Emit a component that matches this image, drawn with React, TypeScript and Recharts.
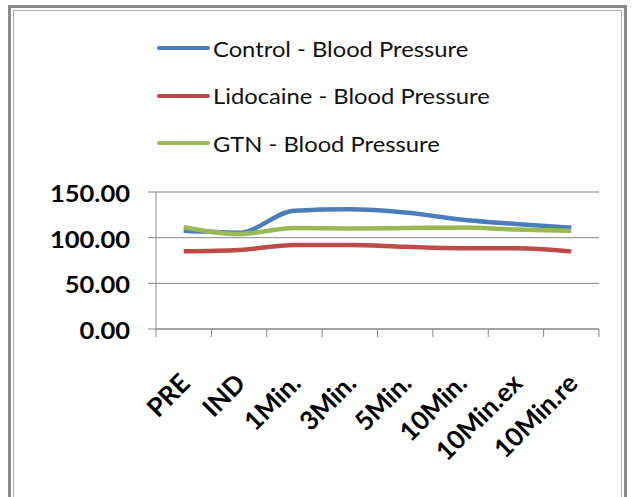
import { LineChart, Line, XAxis, YAxis, CartesianGrid } from "recharts";

const categories = ["PRE", "IND", "1Min.", "3Min.", "5Min.", "10Min.", "10Min.ex", "10Min.re"];
const control = [107.5, 105.5, 129.5, 131, 127.5, 120, 115, 111];
const lidocaine = [85, 86.5, 92, 92, 90, 88.5, 88.5, 85];
const gtn = [111.5, 104, 110.5, 110, 110.5, 111, 109, 107.5];
const yTicks = [0, 50, 100, 150];

const series = [
  { key: "control", name: "Control - Blood Pressure", color: "#4a7ebb" },
  { key: "lidocaine", name: "Lidocaine - Blood Pressure", color: "#be4b48" },
  { key: "gtn", name: "GTN - Blood Pressure", color: "#98b954" },
];

const chartData = categories.map((cat, i) => ({
  cat,
  control: control[i],
  lidocaine: lidocaine[i],
  gtn: gtn[i],
}));

const FONT = "Lato, 'Open Sans', sans-serif";
const W = 633;
const H = 497;
const M = { top: 192, right: 34, bottom: 0, left: 0 };
const Y_W = 156;
const BAND = (W - M.right - M.left - Y_W) / categories.length;
const GRID = "#878787";

function XTick(props: any) {
  const { x, y, payload, index } = props;
  const ax = x + 8;
  const ay = y + 56;
  const last = index === categories.length - 1;
  return (
    <g>
      <line x1={x - BAND / 2} x2={x - BAND / 2} y1={y} y2={y + 8} stroke={GRID} />
      {last && <line x1={x + BAND / 2} x2={x + BAND / 2} y1={y} y2={y + 8} stroke={GRID} />}
      <text
        transform={`translate(${ax}, ${ay}) rotate(-45)`}
        textAnchor="end"
        fontFamily={FONT}
        fontWeight="bold"
        fontSize={26}
        fill="#000"
      >
        {payload.value}
      </text>
    </g>
  );
}

function YTick(props: any) {
  const { x, y, payload } = props;
  return (
    <text
      transform={`translate(${x}, ${y + 10}) scale(1.16, 1)`}
      textAnchor="end"
      fontFamily={FONT}
      fontWeight="bold"
      fontSize={22}
      fill="#000"
    >
      {Number(payload.value).toFixed(2)}
    </text>
  );
}

export default function App() {
  return (
    <div style={{ position: "absolute", left: 0, top: 0, width: W, height: H, background: "#fff", overflow: "hidden" }}>
      {/* chart frame */}
      <div
        style={{
          position: "absolute",
          left: 8,
          top: 5,
          width: 619,
          height: 500,
          border: "3px solid #8a8a8a",
          boxSizing: "border-box",
        }}
      >
        <div style={{ position: "absolute", inset: 2, border: "1px solid #b0b0b0" }} />
      </div>

      {/* legend */}
      {series.map((s, i) => (
        <div
          key={s.key}
          style={{ position: "absolute", left: 157, top: 35 + i * 47.5, height: 26, display: "flex", alignItems: "center" }}
        >
          <div style={{ width: 53, height: 4, background: s.color, borderRadius: 2 }} />
          <span
            style={{
              fontFamily: FONT,
              fontSize: 22,
              color: "#111",
              marginLeft: 3,
              display: "inline-block",
              transform: "scaleX(1.08)",
              transformOrigin: "left center",
              whiteSpace: "nowrap",
            }}
          >
            {s.name}
          </span>
        </div>
      ))}

      <div style={{ position: "absolute", left: 0, top: 0 }}>
        <LineChart width={W} height={H} data={chartData} margin={M}>
          <CartesianGrid vertical={false} stroke={GRID} strokeWidth={1} />
          <XAxis
            dataKey="cat"
            scale="band"
            height={168}
            interval={0}
            tick={<XTick />}
            axisLine={{ stroke: GRID }}
            tickLine={false}
            tickSize={0}
            tickMargin={0}
          />
          <YAxis
            width={Y_W}
            domain={[0, 150]}
            ticks={yTicks}
            tick={<YTick />}
            axisLine={{ stroke: GRID }}
            tickLine={{ stroke: GRID }}
            tickSize={8}
            tickMargin={18}
          />
          {series.map((s) => (
            <Line
              key={s.key}
              type="monotone"
              dataKey={s.key}
              name={s.name}
              stroke={s.color}
              strokeWidth={4.5}
              dot={false}
              isAnimationActive={false}
            />
          ))}
        </LineChart>
      </div>
    </div>
  );
}
